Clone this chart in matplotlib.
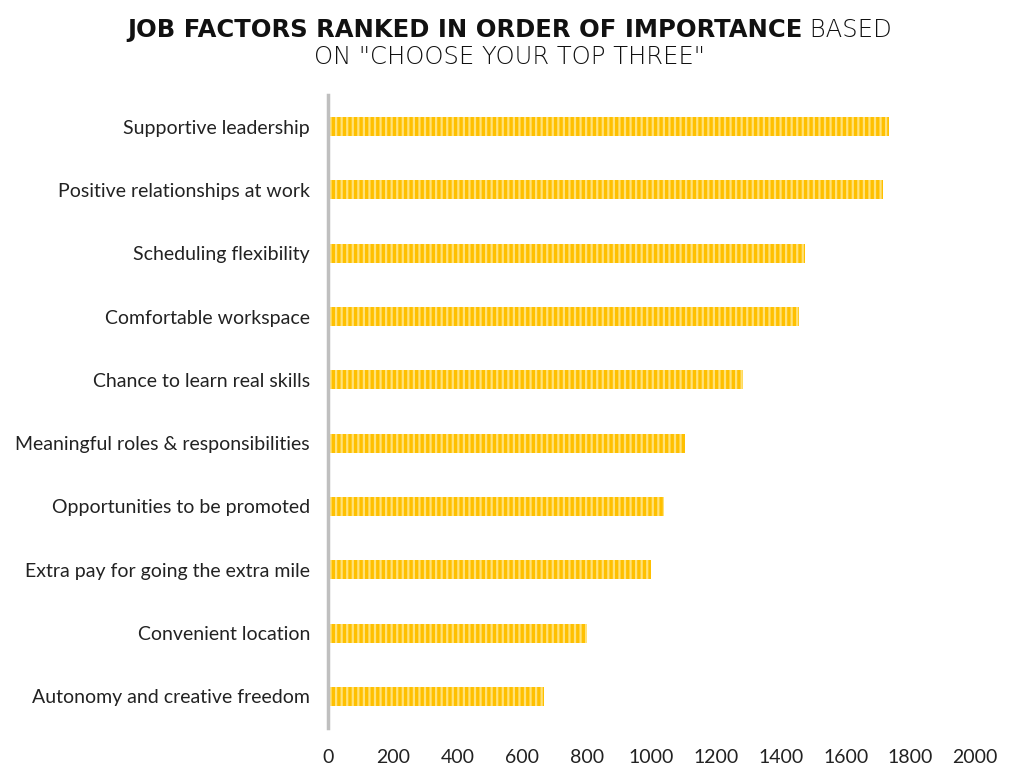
import matplotlib
matplotlib.use("Agg")
import matplotlib.pyplot as plt
from matplotlib.offsetbox import TextArea, HPacker, AnchoredOffsetbox

categories = ["Supportive leadership", "Positive relationships at work", "Scheduling flexibility",
              "Comfortable workspace", "Chance to learn real skills", "Meaningful roles & responsibilities",
              "Opportunities to be promoted", "Extra pay for going the extra mile", "Convenient location",
              "Autonomy and creative freedom"]
values = [1734, 1716, 1474, 1456, 1283, 1104, 1039, 998, 801, 668]
xticks = [0, 200, 400, 600, 800, 1000, 1200, 1400, 1600, 1800, 2000]

plt.rcParams['font.family'] = ['Lato', 'DejaVu Sans']
plt.rcParams['hatch.linewidth'] = 1.6
plt.rcParams['hatch.color'] = '#FFE27A'

fig = plt.figure(figsize=(10.19, 7.76), dpi=100)
ax = fig.add_axes([0.322, 0.0619, 0.635, 0.8157])

ypos = list(range(len(categories)))[::-1]
ax.barh(ypos, values, height=0.3, color='#FFC000', edgecolor='#FFE27A', linewidth=0, hatch='|||')
ax.set_ylim(-0.5, 9.5)
ax.set_xlim(0, 2000)
ax.set_yticks(ypos)
ax.set_yticklabels(categories, fontsize=14, color='#222222')
ax.set_xticks(xticks)
ax.set_xticklabels([str(t) for t in xticks], fontsize=14, color='#222222')
ax.tick_params(axis='both', length=0)
ax.tick_params(axis='x', pad=15)
ax.tick_params(axis='y', pad=13)
for s in ['top', 'right', 'bottom']:
    ax.spines[s].set_visible(False)
ax.spines['left'].set_color('#BFBFBF')
ax.spines['left'].set_linewidth(2.5)

title_font = ['DejaVu Sans', 'Lato']
ta = TextArea("JOB FACTORS RANKED IN ORDER OF IMPORTANCE",
              textprops=dict(fontsize=17.5, fontweight='bold', color='#111111', family=title_font))
tb = TextArea(" BASED", textprops=dict(fontsize=17.5, fontweight='light', color='#111111', family=title_font))
pk = HPacker(children=[ta, tb], align='baseline', pad=0, sep=0)
ab = AnchoredOffsetbox(loc='center', child=pk, frameon=False, bbox_to_anchor=(0.5, 0.961),
                       bbox_transform=fig.transFigure, pad=0, borderpad=0)
fig.add_artist(ab)
fig.text(0.5, 0.927, 'ON "CHOOSE YOUR TOP THREE"', ha='center', va='center', fontsize=17.5,
         fontweight='light', color='#111111', family=title_font)

fig.savefig("out.png", dpi=100)
